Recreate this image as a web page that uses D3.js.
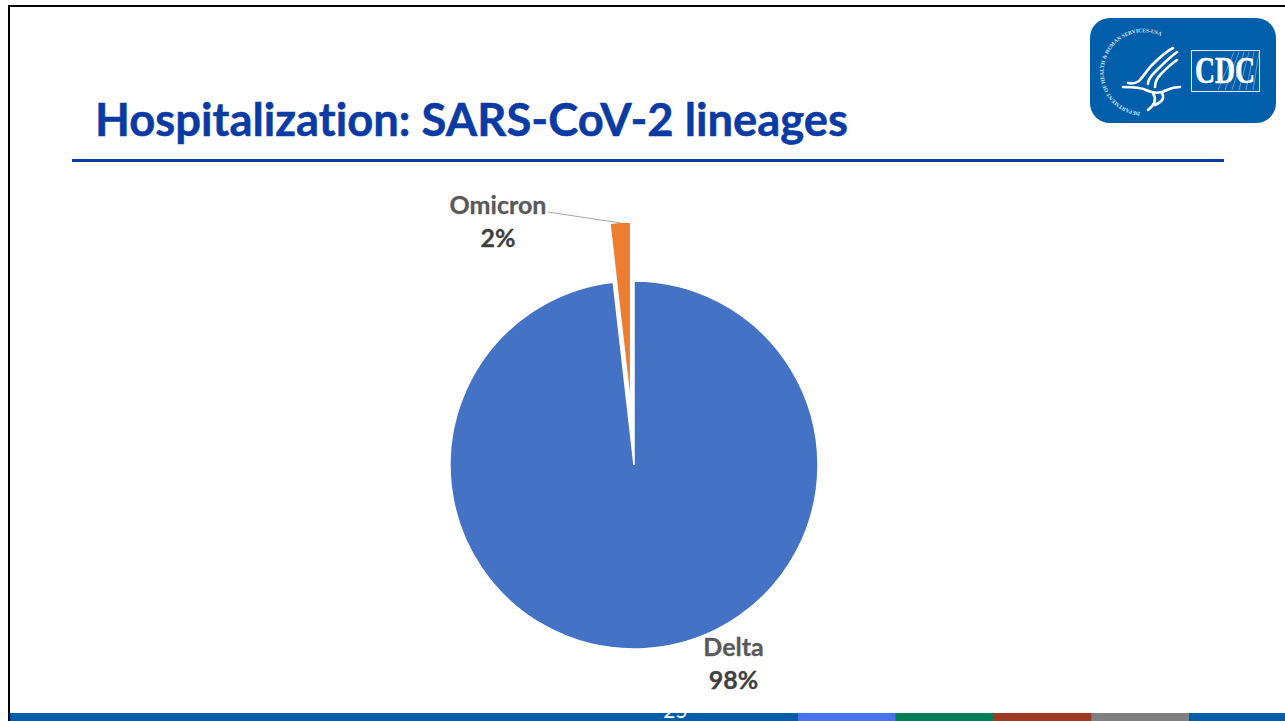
<!DOCTYPE html>
<html>
<head>
<meta charset="utf-8">
<script src="https://cdn.jsdelivr.net/npm/d3@7"></script>
<style>
  html, body { margin: 0; padding: 0; background: #fff; overflow: hidden; }
  svg { display: block; }
  text { font-variant-ligatures: none; }
</style>
</head>
<body>
<div id="chart"></div>
<script>
const titleText = "Hospitalization: SARS-CoV-2 lineages";
const lineages = ["Delta", "Omicron"];
const shares = [98.2, 1.8];
const shareLabels = ["98%", "2%"];
const sliceColors = ["#4472c4", "#ed7d31"];
const footerColors = ["#4a72f0", "#007f58", "#9c3a22", "#808080"];
const pageNumber = "25";

const width = 1285;
const height = 721;

const svg = d3.select("#chart")
  .append("svg")
  .attr("width", width)
  .attr("height", height);

const font = "Lato, 'Open Sans', sans-serif";

// footer band
svg.append("rect")
  .attr("x", 10).attr("y", 713)
  .attr("width", width - 10).attr("height", 8)
  .attr("fill", "#005eaa");

const footerX = d3.scaleBand()
  .domain(d3.range(footerColors.length))
  .range([798, 1189]);

svg.selectAll(".footer-seg")
  .data(footerColors)
  .enter().append("rect")
  .attr("class", "footer-seg")
  .attr("x", (d, i) => footerX(i))
  .attr("y", 713)
  .attr("width", footerX.bandwidth())
  .attr("height", 8)
  .attr("fill", d => d);

svg.append("text")
  .attr("x", 675.5)
  .attr("y", 718)
  .attr("text-anchor", "middle")
  .attr("fill", "#fff")
  .style("font-family", font)
  .style("font-size", "21px")
  .text(pageNumber);

// slide frame
svg.append("path")
  .attr("d", `M9,721V6H${width}`)
  .attr("fill", "none")
  .attr("stroke", "#000")
  .attr("stroke-width", 2);

// title and rule
svg.append("text")
  .attr("x", 95)
  .attr("y", 136)
  .attr("fill", "#0a3aa3")
  .attr("stroke", "#0a3aa3")
  .attr("stroke-width", 0.5)
  .attr("textLength", 753)
  .attr("lengthAdjust", "spacingAndGlyphs")
  .style("font-family", font)
  .style("font-weight", 700)
  .style("font-size", "45px")
  .text(titleText);

svg.append("rect")
  .attr("x", 72).attr("y", 159)
  .attr("width", 1152).attr("height", 3)
  .attr("fill", "#0a3aa3");

// pie
const cx = 634;
const cy = 465;
const radius = 184;
const explode = 59;

const pie = d3.pie().sort(null);
const arc = d3.arc().innerRadius(0).outerRadius(radius);
const arcs = pie(shares);

const pieLayer = svg.append("g")
  .attr("transform", `translate(${cx},${cy})`);

pieLayer.selectAll(".slice")
  .data(arcs)
  .enter().append("path")
  .attr("class", "slice")
  .attr("d", arc)
  .attr("fill", (d, i) => sliceColors[i])
  .attr("stroke", "#fff")
  .attr("stroke-width", 1.5)
  .attr("transform", (d, i) => {
    if (i === 0) return null;
    const mid = (d.startAngle + d.endAngle) / 2;
    return `translate(${Math.sin(mid) * explode},${-Math.cos(mid) * explode})`;
  });

// leader line for the small slice
svg.append("path")
  .attr("d", "M548,212L621,223")
  .attr("fill", "none")
  .attr("stroke", "#a6a6a6")
  .attr("stroke-width", 1);

// labels
const labelPos = [[733.5, 656, 689], [498, 214, 247]];

lineages.forEach((name, i) => {
  const [x, y1, y2] = labelPos[i];
  svg.append("text")
    .attr("x", x).attr("y", y1)
    .attr("text-anchor", "middle")
    .attr("fill", "#595959")
    .attr("stroke", "#595959")
    .attr("stroke-width", 0.3)
    .style("font-family", font)
    .style("font-weight", 700)
    .style("font-size", "25px")
    .text(name);
  svg.append("text")
    .attr("x", x).attr("y", y2)
    .attr("text-anchor", "middle")
    .attr("fill", "#404040")
    .attr("stroke", "#404040")
    .attr("stroke-width", 0.3)
    .style("font-family", font)
    .style("font-weight", 700)
    .style("font-size", "25px")
    .text(shareLabels[i]);
});

// CDC logo
const logo = svg.append("g").attr("transform", "translate(1090,18)");

logo.append("rect")
  .attr("width", 186).attr("height", 105)
  .attr("rx", 20)
  .attr("fill", "#005eaa");

const defs = svg.append("defs");
defs.append("path")
  .attr("id", "seal-ring")
  .attr("d", "M50,94A40,40 0 1 1 81,25");

logo.append("text")
  .attr("fill", "#fff")
  .attr("opacity", 0.85)
  .style("font-family", "'Liberation Serif', serif")
  .style("font-size", "5.4px")
  .style("font-weight", 700)
  .append("textPath")
  .attr("href", "#seal-ring")
  .text("DEPARTMENT OF HEALTH & HUMAN SERVICES-USA");

// eagle strokes
const eagle = [
  "M83,30C75,34 67,42 61,48C56,54 52,60 49,63C46,65 42,66 38,65",
  "M87,34C80,39 72,47 67,52C63,56 58,60 58,66",
  "M87,42C82,45 75,52 71,56C68,59 65,63 65,69",
  "M33,69C40,69 50,69 56,72C62,75 70,76 77,72C81,70 86,69 90,69",
  "M63,75C66,80 66,86 58,92",
  "M72,75C75,80 72,84 65,87"
];

logo.selectAll(".eagle")
  .data(eagle)
  .enter().append("path")
  .attr("class", "eagle")
  .attr("d", d => d)
  .attr("fill", "none")
  .attr("stroke", "#fff")
  .attr("stroke-width", 2.6)
  .attr("stroke-linecap", "round");

// CDC box
logo.append("rect")
  .attr("x", 101.5).attr("y", 32.5)
  .attr("width", 68).attr("height", 41)
  .attr("fill", "none")
  .attr("stroke", "#dbe9f4")
  .attr("stroke-width", 1);

const rays = d3.range(6);
logo.selectAll(".ray")
  .data(rays)
  .enter().append("line")
  .attr("class", "ray")
  .attr("x1", d => 128 + d * 7).attr("y1", 72)
  .attr("x2", d => 144 + d * 5).attr("y2", 34)
  .attr("stroke", "#9fc3e0")
  .attr("stroke-width", 0.6);

logo.append("text")
  .attr("x", 135).attr("y", 65)
  .attr("text-anchor", "middle")
  .attr("fill", "#fff")
  .attr("stroke", "#fff")
  .attr("stroke-width", 0.6)
  .style("font-family", "'Liberation Serif', serif")
  .style("font-weight", 700)
  .style("font-size", "37px")
  .attr("textLength", 60)
  .attr("lengthAdjust", "spacingAndGlyphs")
  .text("CDC");
</script>
</body>
</html>
